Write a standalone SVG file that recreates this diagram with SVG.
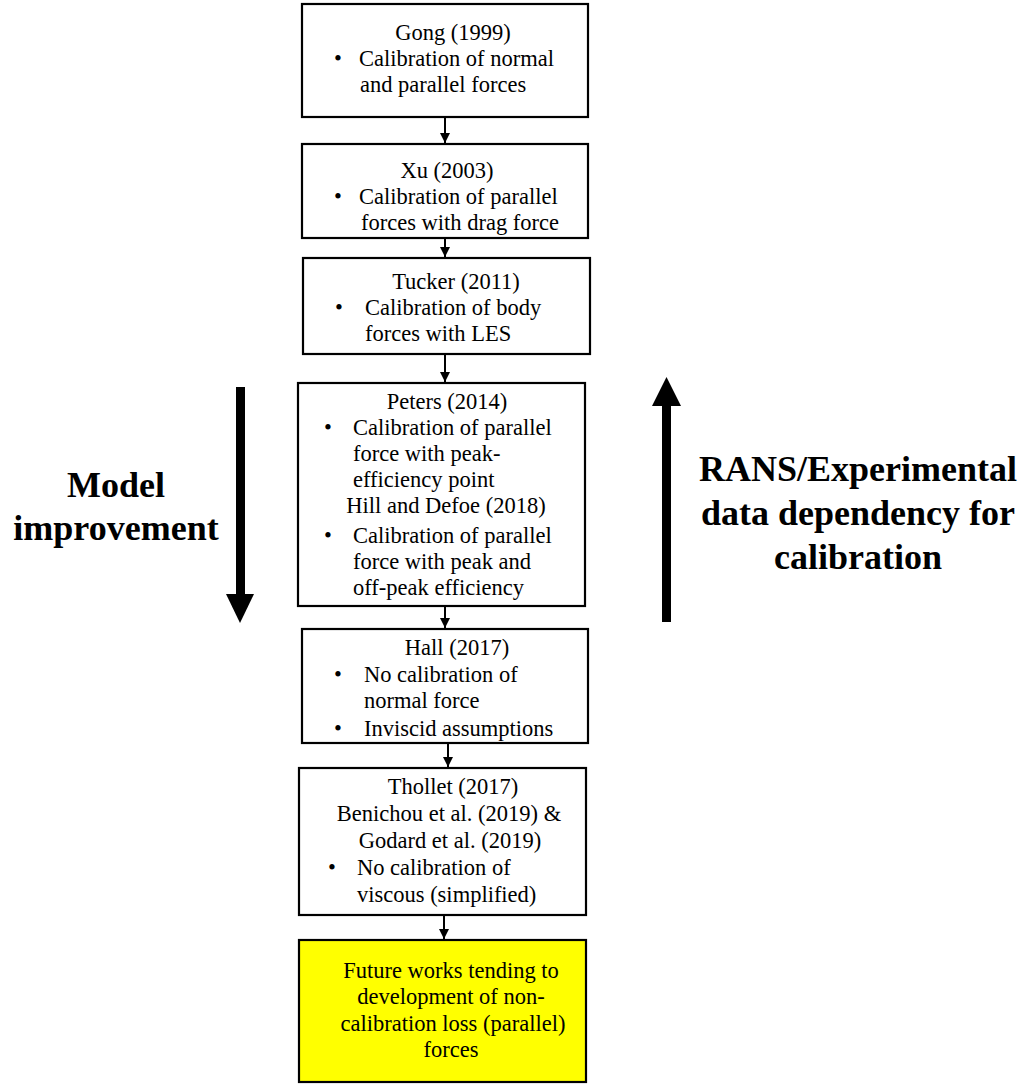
<svg xmlns="http://www.w3.org/2000/svg" width="1029" height="1084" viewBox="0 0 1029 1084">
<style>
.box{fill:#ffffff;stroke:#000000;stroke-width:2.2}
.fut{fill:#ffff00;stroke:#000000;stroke-width:2.2}
text{font-family:"Liberation Serif","Times New Roman",serif;fill:#000000}
.t{font-size:22.5px}
.c{text-anchor:middle}
.big{font-size:36px;font-weight:bold;text-anchor:middle}
.con{stroke:#000000;stroke-width:2;fill:none;marker-end:url(#ah)}
</style>
<defs>
<marker id="ah" markerWidth="11" markerHeight="10" refX="10" refY="5" orient="auto" markerUnits="userSpaceOnUse">
<path d="M0,0 L10,5 L0,10 Z" fill="#000000"/>
</marker>
</defs>
<g id="connectors">
<line class="con" x1="445" y1="118" x2="445" y2="143"/>
<line class="con" x1="445" y1="239" x2="445" y2="257"/>
<line class="con" x1="445" y1="355" x2="445" y2="382"/>
<line class="con" x1="445" y1="607" x2="445" y2="628"/>
<line class="con" x1="448" y1="744" x2="448" y2="767"/>
<line class="con" x1="444" y1="916" x2="444" y2="939"/>
</g>
<g id="gong">
<rect class="box" x="302" y="4" width="286" height="113"/>
<text class="t c" x="453" y="40">Gong (1999)</text>
<text class="t" x="334" y="66">•</text>
<text class="t" x="359" y="66">Calibration of normal</text>
<text class="t" x="360" y="92">and parallel forces</text>
</g>
<g id="xu">
<rect class="box" x="302" y="144" width="286" height="94"/>
<text class="t c" x="447" y="178">Xu (2003)</text>
<text class="t" x="334" y="204">•</text>
<text class="t" x="359" y="204">Calibration of parallel</text>
<text class="t" x="361" y="230">forces with drag force</text>
</g>
<g id="tucker">
<rect class="box" x="303" y="258" width="287" height="96"/>
<text class="t c" x="456" y="289">Tucker (2011)</text>
<text class="t" x="335" y="315">•</text>
<text class="t" x="365" y="315">Calibration of body</text>
<text class="t" x="365" y="341">forces with LES</text>
</g>
<g id="peters">
<rect class="box" x="298" y="383" width="287" height="223"/>
<text class="t c" x="447" y="409">Peters (2014)</text>
<text class="t" x="324" y="435">•</text>
<text class="t" x="353" y="435">Calibration of parallel</text>
<text class="t" x="353" y="461">force with peak-</text>
<text class="t" x="353" y="487">efficiency point</text>
<text class="t c" x="446" y="513">Hill and Defoe (2018)</text>
<text class="t" x="324" y="543">•</text>
<text class="t" x="353" y="543">Calibration of parallel</text>
<text class="t" x="353" y="569">force with peak and</text>
<text class="t" x="353" y="595">off-peak efficiency</text>
</g>
<g id="hall">
<rect class="box" x="302" y="629" width="286" height="114"/>
<text class="t c" x="457" y="655">Hall (2017)</text>
<text class="t" x="334" y="682">•</text>
<text class="t" x="364" y="682">No calibration of</text>
<text class="t" x="364" y="708">normal force</text>
<text class="t" x="334" y="736">•</text>
<text class="t" x="364" y="736">Inviscid assumptions</text>
</g>
<g id="thollet">
<rect class="box" x="299" y="768" width="287" height="147"/>
<text class="t c" x="453" y="794">Thollet (2017)</text>
<text class="t c" x="449" y="821">Benichou et al. (2019) &amp;</text>
<text class="t c" x="450" y="848">Godard et al. (2019)</text>
<text class="t" x="328" y="875">•</text>
<text class="t" x="357" y="875">No calibration of</text>
<text class="t" x="357" y="902">viscous (simplified)</text>
</g>
<g id="future">
<rect class="fut" x="299" y="940" width="287" height="142"/>
<text class="t c" x="451" y="978">Future works tending to</text>
<text class="t c" x="451" y="1004">development of non-</text>
<text class="t c" x="453" y="1031">calibration loss (parallel)</text>
<text class="t c" x="451" y="1057">forces</text>
</g>
<g id="model-improvement">
<rect x="236" y="387" width="9" height="208" fill="#000000"/>
<path d="M226,594 L254,594 L240,623 Z" fill="#000000"/>
<text class="big" x="116" y="497">Model</text>
<text class="big" x="116" y="540">improvement</text>
</g>
<g id="rans-dependency">
<rect x="662" y="404" width="9" height="218" fill="#000000"/>
<path d="M652,406 L681,406 L666.5,377 Z" fill="#000000"/>
<text class="big" x="858" y="481">RANS/Experimental</text>
<text class="big" x="858" y="525">data dependency for</text>
<text class="big" x="858" y="569">calibration</text>
</g>
</svg>
